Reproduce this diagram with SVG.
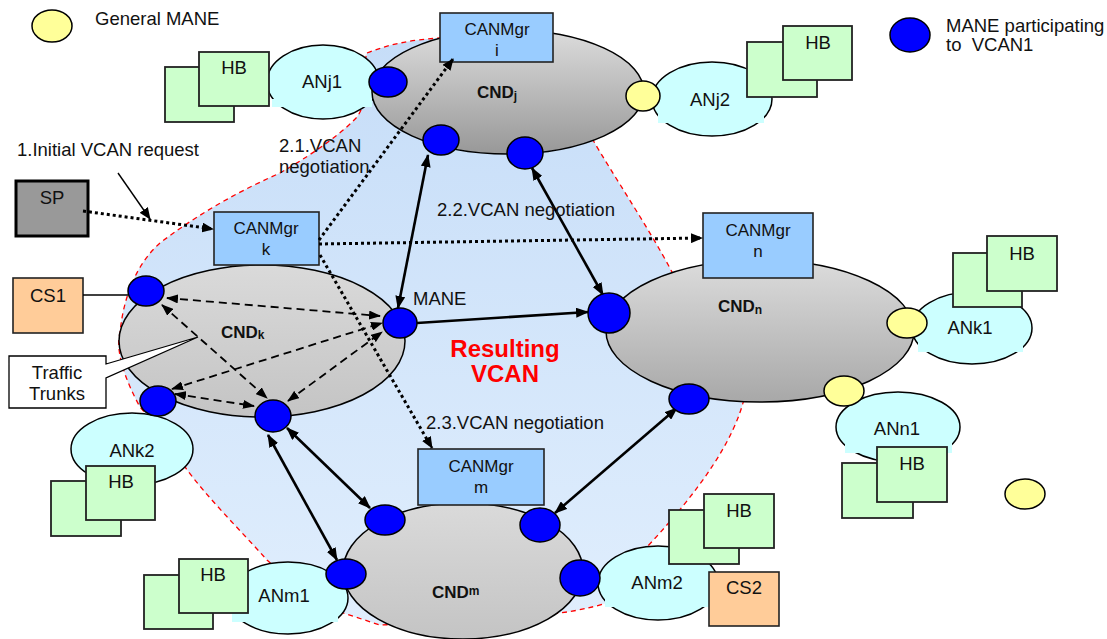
<svg xmlns="http://www.w3.org/2000/svg" width="1107" height="639" viewBox="0 0 1107 639">
<defs>
  <linearGradient id="gArea" x1="0" y1="0" x2="0" y2="1">
    <stop offset="0" stop-color="#c6ddf8"/><stop offset="1" stop-color="#e0eefd"/>
  </linearGradient>
  <linearGradient id="gDark" x1="0" y1="0" x2="0" y2="1">
    <stop offset="0" stop-color="#dcdcdc"/><stop offset="1" stop-color="#989898"/>
  </linearGradient>
  <linearGradient id="gMid" x1="0" y1="0" x2="0" y2="1">
    <stop offset="0" stop-color="#dcdcdc"/><stop offset="1" stop-color="#a8a8a8"/>
  </linearGradient>
  <linearGradient id="gLight" x1="0" y1="0" x2="0" y2="1">
    <stop offset="0" stop-color="#dadada"/><stop offset="1" stop-color="#c4c4c4"/>
  </linearGradient>
  <marker id="hSolid" viewBox="0 0 13 10" refX="12" refY="5" markerWidth="13" markerHeight="10" markerUnits="userSpaceOnUse" orient="auto-start-reverse">
    <path d="M0,0 L13,5 L0,10 z" fill="#000"/>
  </marker>
  <marker id="hDash" viewBox="0 0 12 9" refX="11" refY="4.5" markerWidth="12" markerHeight="9" markerUnits="userSpaceOnUse" orient="auto-start-reverse">
    <path d="M0,0 L12,4.5 L0,9 z" fill="#000"/>
  </marker>
  <marker id="hDot" viewBox="0 0 12 10" refX="11" refY="5" markerWidth="12" markerHeight="10" markerUnits="userSpaceOnUse" orient="auto">
    <path d="M0,0 L12,5 L0,10 z" fill="#000"/>
  </marker>
  <marker id="hThin" viewBox="0 0 12 10" refX="11" refY="5" markerWidth="12" markerHeight="10" markerUnits="userSpaceOnUse" orient="auto">
    <path d="M0,0 L12,5 L0,10 z" fill="#000"/>
  </marker>
</defs>
<style>
  .area{fill:url(#gArea);stroke:#ff0000;stroke-width:1.3;stroke-dasharray:5 4}
  .an{fill:#ccffff;stroke:#000;stroke-width:1.5}
  .patch{fill:#ccffff;stroke:none}
  .hb{fill:#ccffcc;stroke:#222;stroke-width:1.8}
  .cnd{stroke:#000;stroke-width:1.5}
  .mgr{fill:#99ccff;stroke:#222;stroke-width:1.6}
  .cs{fill:#ffcc99;stroke:#222;stroke-width:1.6}
  .sp{fill:#999999;stroke:#000;stroke-width:3}
  .callout{fill:#fff;stroke:#000;stroke-width:1.3}
  .vm{fill:#0000ff;stroke:#000;stroke-width:1.5}
  .gm{fill:#ffff99;stroke:#000;stroke-width:1.5}
  .solid{stroke:#000;stroke-width:2.6;fill:none;marker-end:url(#hSolid)}
  .both{marker-start:url(#hSolid)}
  .dash{stroke:#000;stroke-width:1.8;stroke-dasharray:8 5;fill:none;marker-start:url(#hDash);marker-end:url(#hDash)}
  .dot{stroke:#000;stroke-width:3;stroke-dasharray:3 3;fill:none;marker-end:url(#hDot)}
  .thin{stroke:#000;stroke-width:1.4;fill:none}
  text{font-family:"Liberation Sans",Arial,Helvetica,sans-serif;font-size:18.5px;fill:#111;white-space:pre}
  .m{text-anchor:middle}
  .mt{font-size:17px}
  .bold{font-weight:bold;font-size:17px}
  .red{fill:#ff0000;font-weight:bold;font-size:24px;text-anchor:middle}
</style>

<!-- resulting VCAN area -->
<g id="vcan-area">
  <path class="area" d="M367,53 C390,44 410,40 440,38 L560,40 L600,100 L593,140 C610,170 650,230 672,272 L745,340 L745,395 C735,440 700,490 647,547 L620,580 L607,603 C590,608 575,611 560,613 L463,622 L380,625 L343,613 L300,590 L267,560 C240,530 205,495 185,467 L160,430 L140,407 C125,380 115,350 120,333 C123,300 135,265 160,243 C190,220 230,195 280,173 C320,150 345,130 357,117 C370,100 362,65 367,53 Z"/>
  <text class="red" x="505" y="357">Resulting</text>
  <text class="red" x="505" y="382">VCAN</text>
</g>

<!-- legend -->
<g id="legend">
  <ellipse class="gm" cx="52" cy="26" rx="20" ry="16"/>
  <text x="95" y="25">General MANE</text>
  <ellipse class="vm" cx="910" cy="35" rx="20" ry="17"/>
  <text x="946" y="32">MANE participating</text>
  <text x="946" y="51">to  VCAN1</text>
</g>

<!-- access networks with their home boxes -->
<g id="ANj1">
  <ellipse class="an" cx="323" cy="82" rx="56" ry="37"/>
  <rect class="patch" x="272" y="99" width="100" height="8"/>
  <rect class="hb" x="165" y="67" width="69" height="55"/>
  <rect class="hb" x="199" y="52" width="70" height="54"/>
  <text class="m" x="234" y="74">HB</text>
  <text class="m" x="322" y="88">ANj1</text>
</g>
<g id="ANj2">
  <ellipse class="an" cx="712" cy="99" rx="60" ry="37"/>
  <rect class="patch" x="658" y="112" width="106" height="11"/>
  <rect class="hb" x="747" y="42" width="70" height="55"/>
  <rect class="hb" x="783" y="26" width="69" height="54"/>
  <text class="m" x="818" y="49">HB</text>
  <text class="m" x="710" y="106">ANj2</text>
</g>
<g id="ANk1">
  <ellipse class="an" cx="972" cy="328" rx="60" ry="36"/>
  <rect class="patch" x="918" y="341" width="105" height="11"/>
  <rect class="hb" x="953" y="253" width="69" height="54"/>
  <rect class="hb" x="987" y="236" width="70" height="55"/>
  <text class="m" x="1022" y="260">HB</text>
  <text class="m" x="970" y="334">ANk1</text>
</g>
<g id="ANn1">
  <ellipse class="an" cx="898" cy="427" rx="62" ry="35"/>
  <rect class="patch" x="845" y="441" width="107" height="12"/>
  <rect class="hb" x="842" y="463" width="71" height="55"/>
  <rect class="hb" x="877" y="447" width="70" height="55"/>
  <text class="m" x="912" y="470">HB</text>
  <text class="m" x="897" y="435">ANn1</text>
</g>
<g id="ANk2">
  <ellipse class="an" cx="132" cy="449" rx="61" ry="36"/>
  <rect class="hb" x="51" y="481" width="70" height="55"/>
  <rect class="hb" x="86" y="466" width="69" height="54"/>
  <text class="m" x="121" y="488">HB</text>
  <text class="m" x="132" y="457">ANk2</text>
</g>
<g id="ANm1">
  <ellipse class="an" cx="288" cy="598" rx="60" ry="36"/>
  <rect class="patch" x="232" y="613" width="106" height="9"/>
  <rect class="hb" x="144" y="575" width="69" height="54"/>
  <rect class="hb" x="179" y="559" width="69" height="54"/>
  <text class="m" x="213" y="581">HB</text>
  <text class="m" x="284" y="602">ANm1</text>
</g>
<g id="ANm2">
  <ellipse class="an" cx="658" cy="583" rx="60" ry="37"/>
  <rect class="patch" x="605" y="597" width="110" height="10"/>
  <rect class="hb" x="669" y="510" width="70" height="54"/>
  <rect class="hb" x="704" y="494" width="70" height="54"/>
  <text class="m" x="739" y="517">HB</text>
  <text class="m" x="657" y="589">ANm2</text>
</g>

<!-- core network domains -->
<g id="CNDj">
  <ellipse class="cnd" fill="url(#gDark)" cx="508" cy="92" rx="136" ry="62"/>
  <text class="bold" x="477" y="98">CND<tspan font-size="12" dy="2">j</tspan></text>
</g>
<g id="CNDk">
  <ellipse class="cnd" fill="url(#gLight)" cx="262" cy="341" rx="143" ry="76"/>
  <text class="bold" x="221" y="338">CND<tspan font-size="12" dy="1">k</tspan></text>
</g>
<g id="CNDn">
  <ellipse class="cnd" fill="url(#gMid)" cx="760" cy="331" rx="154" ry="71"/>
  <text class="bold" x="718" y="312">CND<tspan font-size="12" dy="2">n</tspan></text>
</g>
<g id="CNDm">
  <ellipse class="cnd" fill="url(#gLight)" cx="463" cy="571" rx="120" ry="68"/>
  <text class="bold" x="432" y="598">CND<tspan font-size="12" dy="-3">m</tspan></text>
</g>

<!-- CAN managers -->
<g id="CANMgr-i">
  <rect class="mgr" x="440" y="13" width="113" height="49"/>
  <text class="m mt" x="497" y="35">CANMgr</text>
  <text class="m mt" x="497" y="56">i</text>
</g>
<g id="CANMgr-k">
  <rect class="mgr" x="214" y="212" width="105" height="53"/>
  <text class="m mt" x="266" y="234">CANMgr</text>
  <text class="m mt" x="266" y="255">k</text>
</g>
<g id="CANMgr-n">
  <rect class="mgr" x="703" y="213" width="110" height="65"/>
  <text class="m mt" x="758" y="236">CANMgr</text>
  <text class="m mt" x="758" y="257">n</text>
</g>
<g id="CANMgr-m">
  <rect class="mgr" x="418" y="449" width="126" height="56"/>
  <text class="m mt" x="481" y="472">CANMgr</text>
  <text class="m mt" x="481" y="493">m</text>
</g>

<!-- content servers and service provider -->
<g id="CS1">
  <rect class="cs" x="13" y="278" width="70" height="55"/>
  <text class="m" x="48" y="302">CS1</text>
</g>
<g id="CS2">
  <rect class="cs" x="709" y="572" width="70" height="54"/>
  <text class="m" x="744" y="594">CS2</text>
</g>
<g id="SP">
  <rect class="sp" x="16" y="181" width="72" height="55"/>
  <text class="m" x="52" y="204">SP</text>
</g>

<!-- connectors -->
<g id="connectors">
  <!-- intra-domain traffic trunks -->
  <path class="dash" d="M167,298 L380,316"/>
  <path class="dash" d="M162,305 L267,398"/>
  <path class="dash" d="M172,389 L382,323"/>
  <path class="dash" d="M175,394 L254,406"/>
  <path class="dash" d="M288,401 L382,332"/>
  <!-- inter-domain links -->
  <path class="solid both" d="M428,155 L398,308"/>
  <path class="solid both" d="M532,168 L603,295"/>
  <path class="solid" d="M417,323 L588,312"/>
  <path class="solid both" d="M287,428 L370,508"/>
  <path class="solid both" d="M268,435 L337,560"/>
  <path class="solid both" d="M677,408 L555,513"/>
  <!-- VCAN signalling -->
  <path class="dot" d="M83,211 L213,229"/>
  <path class="dot" d="M319,240 L453,59"/>
  <path class="dot" d="M319,244 L702,238"/>
  <path class="dot" d="M320,255 L432,448"/>
  <path class="thin" marker-end="url(#hThin)" d="M118,173 L150,219"/>
  <path class="thin" d="M83,295 L128,295"/>
</g>

<!-- MANE nodes -->
<g id="manes">
  <ellipse class="vm" cx="388" cy="82" rx="19" ry="15"/>
  <ellipse class="gm" cx="643" cy="96" rx="17" ry="15"/>
  <ellipse class="vm" cx="441" cy="140" rx="18" ry="15"/>
  <ellipse class="vm" cx="525" cy="153" rx="18" ry="16"/>
  <ellipse class="vm" cx="146" cy="291" rx="18" ry="15"/>
  <ellipse class="vm" cx="400" cy="323" rx="17" ry="15"/>
  <ellipse class="vm" cx="158" cy="401" rx="18" ry="15"/>
  <ellipse class="vm" cx="273" cy="416" rx="18" ry="16"/>
  <ellipse class="vm" cx="609" cy="313" rx="21" ry="20"/>
  <ellipse class="vm" cx="689" cy="399" rx="20" ry="15"/>
  <ellipse class="gm" cx="907" cy="323" rx="20" ry="15"/>
  <ellipse class="gm" cx="844" cy="391" rx="20" ry="15"/>
  <ellipse class="gm" cx="1025" cy="494" rx="20" ry="15"/>
  <ellipse class="vm" cx="385" cy="520" rx="20" ry="15"/>
  <ellipse class="vm" cx="540" cy="525" rx="20" ry="17"/>
  <ellipse class="vm" cx="346" cy="574" rx="20" ry="15"/>
  <ellipse class="vm" cx="580" cy="578" rx="20" ry="18"/>
</g>

<!-- traffic trunks callout -->
<g id="traffic-trunks">
  <path class="callout" d="M9,356 H106 V364 L198,337 L106,378 V408 H9 Z"/>
  <text class="m" x="57" y="379">Traffic</text>
  <text class="m" x="57" y="400">Trunks</text>
</g>

<!-- labels -->
<g id="labels">
  <text x="17" y="156">1.Initial VCAN request</text>
  <text x="279" y="152">2.1.VCAN</text>
  <text x="279" y="173">negotiation</text>
  <text x="437" y="216">2.2.VCAN negotiation</text>
  <text x="426" y="429">2.3.VCAN negotiation</text>
  <text x="413" y="305">MANE</text>
</g>
</svg>
